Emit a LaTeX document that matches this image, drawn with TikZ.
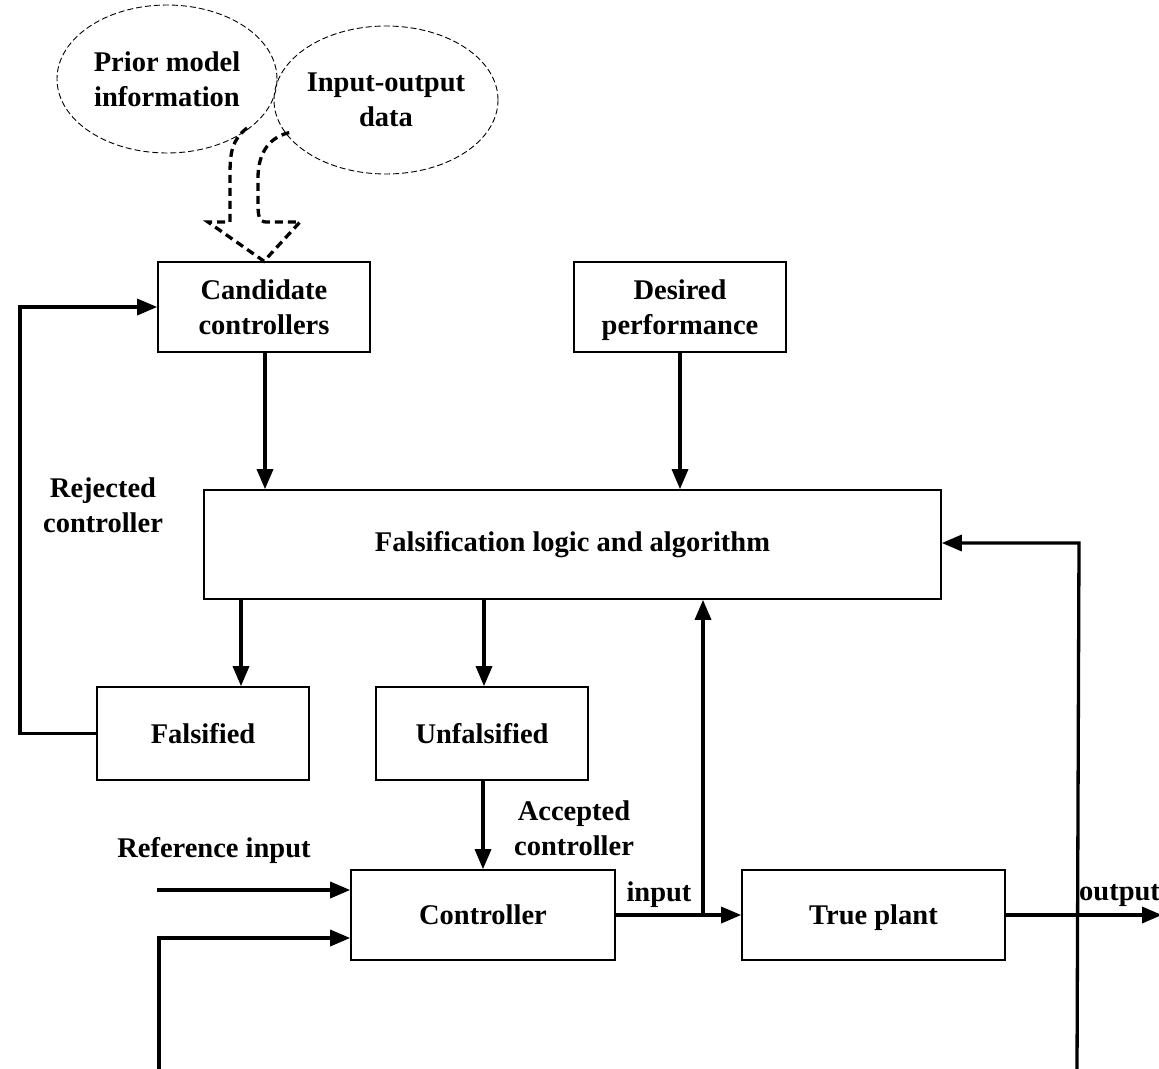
\documentclass[tikz,border=0pt]{standalone}
\usepackage{fontspec}
\setmainfont{Liberation Serif}
\usetikzlibrary{shapes.geometric,arrows.meta}
% a word whose descender is ignored when the line is centred
\newcommand{\nodesc}[1]{\raisebox{0pt}[\height][0pt]{#1}}
\begin{document}
\begin{tikzpicture}[x=1pt,y=-1pt,
  every node/.style={font=\fontsize{28.5}{35}\selectfont\bfseries, align=center},
  blk/.style={draw, line width=1.6pt, minimum width=212pt, minimum height=90pt, inner sep=0pt},
  cloud/.style={draw, ellipse, dashed, line width=0.9pt, dash pattern=on 6pt off 3pt,
                minimum width=220pt, minimum height=148pt, inner sep=0pt},
  lbl/.style={inner sep=0pt},
  flow/.style={line width=3.3pt, -{Triangle[length=20pt,width=16pt]}},
  wire/.style={line width=3.3pt}]
\useasboundingbox (0,0) rectangle (1159,1068);

% information sources
\node[cloud] (prior) at (167,79) {Prior model\\information};
\node[cloud] (iodata) at (386,100) {Input-output\\data};

% blocks
\node[blk] (cand) at (264,307) {Candidate\\controllers};
\node[blk] (des) at (680,307) {Desired\\\nodesc{performance}};
\node[blk, minimum width=737pt, minimum height=109pt] (fals) at (572.5,544.5) {Falsification logic and algorithm};
\node[blk, minimum height=93pt] (fd) at (203,733.5) {Falsified};
\node[blk, minimum height=93pt] (ufd) at (482,733.5) {Unfalsified};
\node[blk, minimum width=264pt] (ctrl) at (483,915) {Controller};
\node[blk, minimum width=263pt] (plant) at (873.5,915) {\nodesc{True plant}};

% combined dashed feed into the candidate set
\draw[line width=3.3pt, dash pattern=on 8pt off 5pt, line join=miter]
  (247,128) .. controls (232,140) and (230,152) .. (230,175) -- (230,222) -- (208,222)
  -- (cand.north) -- (300,222) -- (266,222)
  .. controls (259,222) and (258,215) .. (258,205) -- (258,178)
  .. controls (258,152) and (270,136) .. (292,132);

% connectors
\draw[flow] (cand.south -| 265,0) -- (fals.north -| 265,0);
\draw[flow] (des.south) -- (fals.north -| des.south);
\draw[flow] (fals.south -| 241,0) -- (fd.north -| 241,0);
\draw[flow] (fals.south -| 484,0) -- (ufd.north -| 484,0);
\coordinate (rj1) at (20,733.5);
\coordinate (rj2) at (20,307);
\draw[flow] (fd.west) -- (rj1) -- (rj2) -- (cand.west);
\draw[flow] (ufd.south -| 483,0) -- (ctrl.north -| 483,0);
\draw[flow] (ctrl.east) -- (plant.west);
\coordinate (tap) at (703,915);
\draw[flow] (tap) -- (fals.south -| tap);
\coordinate (outend) at (1162,915);
\draw[flow] (plant.east) -- (outend);
\coordinate (fbbot) at (1077,1070);
\coordinate (fbtop) at (1079,543);
\draw[flow] (fbbot) -- (fbtop) -- (fals.east |- fbtop);
\coordinate (refin) at (157,890);
\draw[flow] (refin) -- (ctrl.west |- refin);
\coordinate (lowbot) at (159,1070);
\coordinate (lowcorner) at (159,938);
\draw[flow] (lowbot) -- (lowcorner) -- (ctrl.west |- lowcorner);

% labels
\node[lbl] at (103,505) {Rejected\\controller};
\node[lbl] at (574,828) {Accepted\\controller};
\node[lbl] at (214,850) {Reference input};
\node[lbl] at (659,895) {input};
\node[lbl, anchor=west] at (1079,895) {output};
\end{tikzpicture}
\end{document}
